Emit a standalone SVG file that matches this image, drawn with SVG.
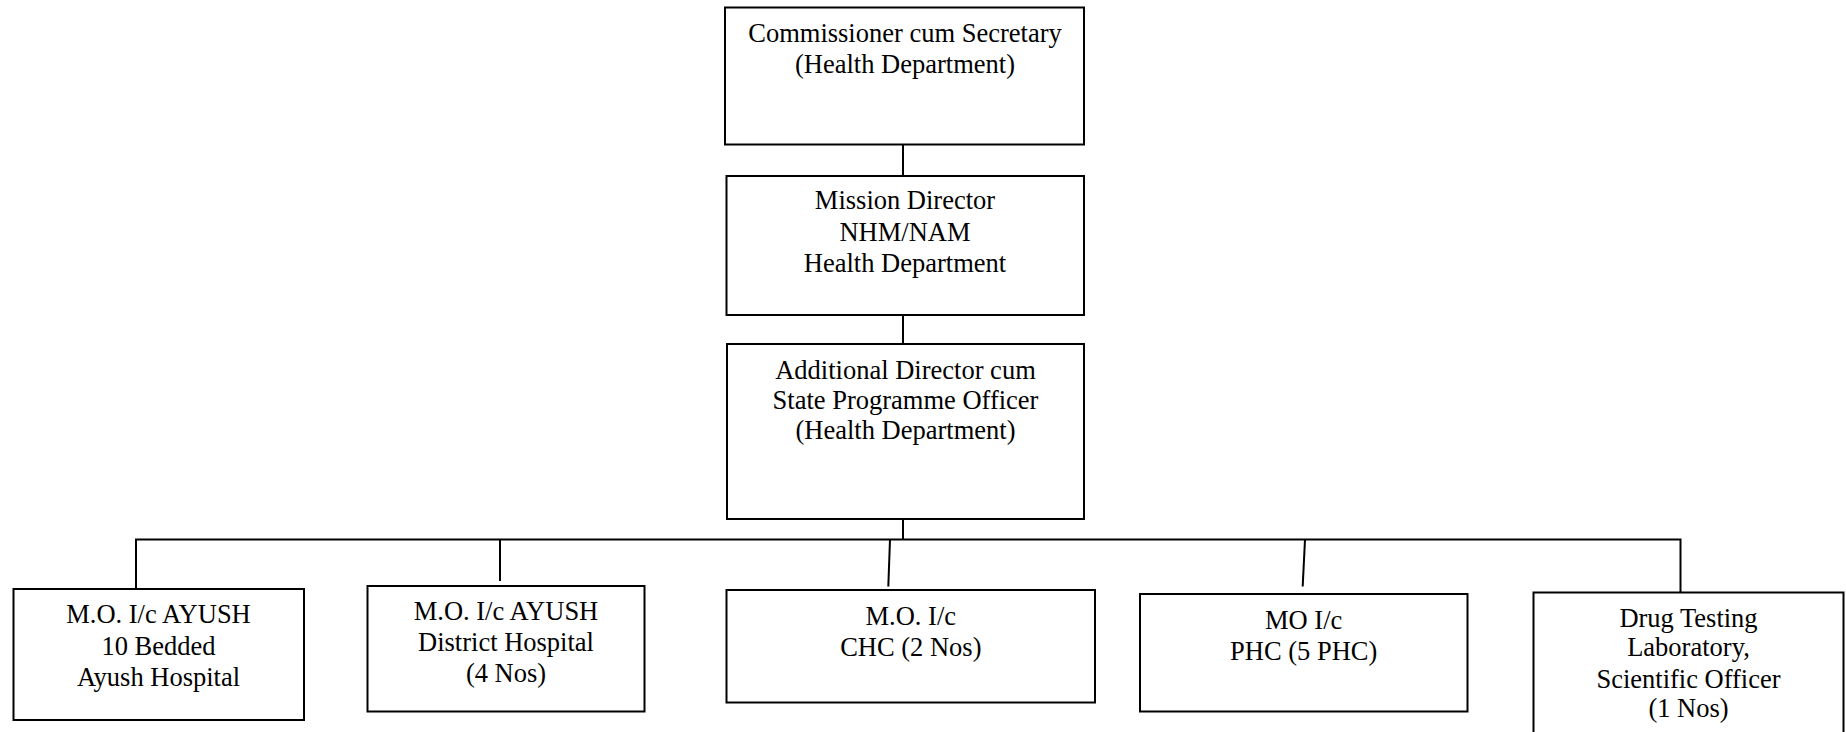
<svg xmlns="http://www.w3.org/2000/svg" width="1846" height="732" viewBox="0 0 1846 732">
<style>
.box{fill:#fff;stroke:#000;stroke-width:2}
.t{font-family:"Liberation Serif","Times New Roman",serif;font-size:26.5px;fill:#000;text-anchor:middle}
.c{fill:none;stroke:#000;stroke-width:2}
</style>
<rect width="1846" height="732" fill="#fff"/>
<g id="connectors">
<path class="c" d="M903 144.5 V176"/>
<path class="c" d="M903 315 V344"/>
<path class="c" d="M903 519 V539.5"/>
<path class="c" d="M136 592.5 V539.5 H1680.5 V592.5"/>
<path class="c" d="M500 539.5 V581"/>
<path class="c" d="M890 539.5 L888.3 586.5"/>
<path class="c" d="M1305 539.5 L1302.7 586.5"/>
</g>
<g id="n1">
<rect class="box" x="725" y="7.5" width="359" height="137"/>
<text class="t" x="905" y="41.5">Commissioner cum Secretary</text>
<text class="t" x="905" y="72.8">(Health Department)</text>
</g>
<g id="n2">
<rect class="box" x="726.5" y="176" width="357.5" height="139"/>
<text class="t" x="905" y="209">Mission Director</text>
<text class="t" x="905" y="240.5">NHM/NAM</text>
<text class="t" x="905" y="271.5">Health Department</text>
</g>
<g id="n3">
<rect class="box" x="727" y="344" width="357" height="175"/>
<text class="t" x="905.5" y="378.5">Additional Director cum</text>
<text class="t" x="905.5" y="409">State Programme Officer</text>
<text class="t" x="905.5" y="439">(Health Department)</text>
</g>
<g id="nA">
<rect class="box" x="13.5" y="589" width="290.5" height="131"/>
<text class="t" x="158.5" y="623.3">M.O. I/c AYUSH</text>
<text class="t" x="158.5" y="655">10 Bedded</text>
<text class="t" x="158.5" y="685.7">Ayush Hospital</text>
</g>
<g id="nB">
<rect class="box" x="367.5" y="586" width="277" height="125.5"/>
<text class="t" x="506" y="620">M.O. I/c AYUSH</text>
<text class="t" x="506" y="651">District Hospital</text>
<text class="t" x="506" y="681.7">(4 Nos)</text>
</g>
<g id="nC">
<rect class="box" x="726.5" y="590" width="368.5" height="112.5"/>
<text class="t" x="910.8" y="625">M.O. I/c</text>
<text class="t" x="910.8" y="656">CHC (2 Nos)</text>
</g>
<g id="nD">
<rect class="box" x="1140" y="594" width="327.5" height="117.5"/>
<text class="t" x="1303.7" y="629.3">MO I/c</text>
<text class="t" x="1303.7" y="660">PHC (5 PHC)</text>
</g>
<g id="nE">
<rect class="box" x="1533.5" y="592.5" width="310" height="160"/>
<text class="t" x="1688.5" y="626.7">Drug Testing</text>
<text class="t" x="1688.5" y="656">Laboratory,</text>
<text class="t" x="1688.5" y="688">Scientific Officer</text>
<text class="t" x="1688.5" y="717">(1 Nos)</text>
</g>
</svg>
